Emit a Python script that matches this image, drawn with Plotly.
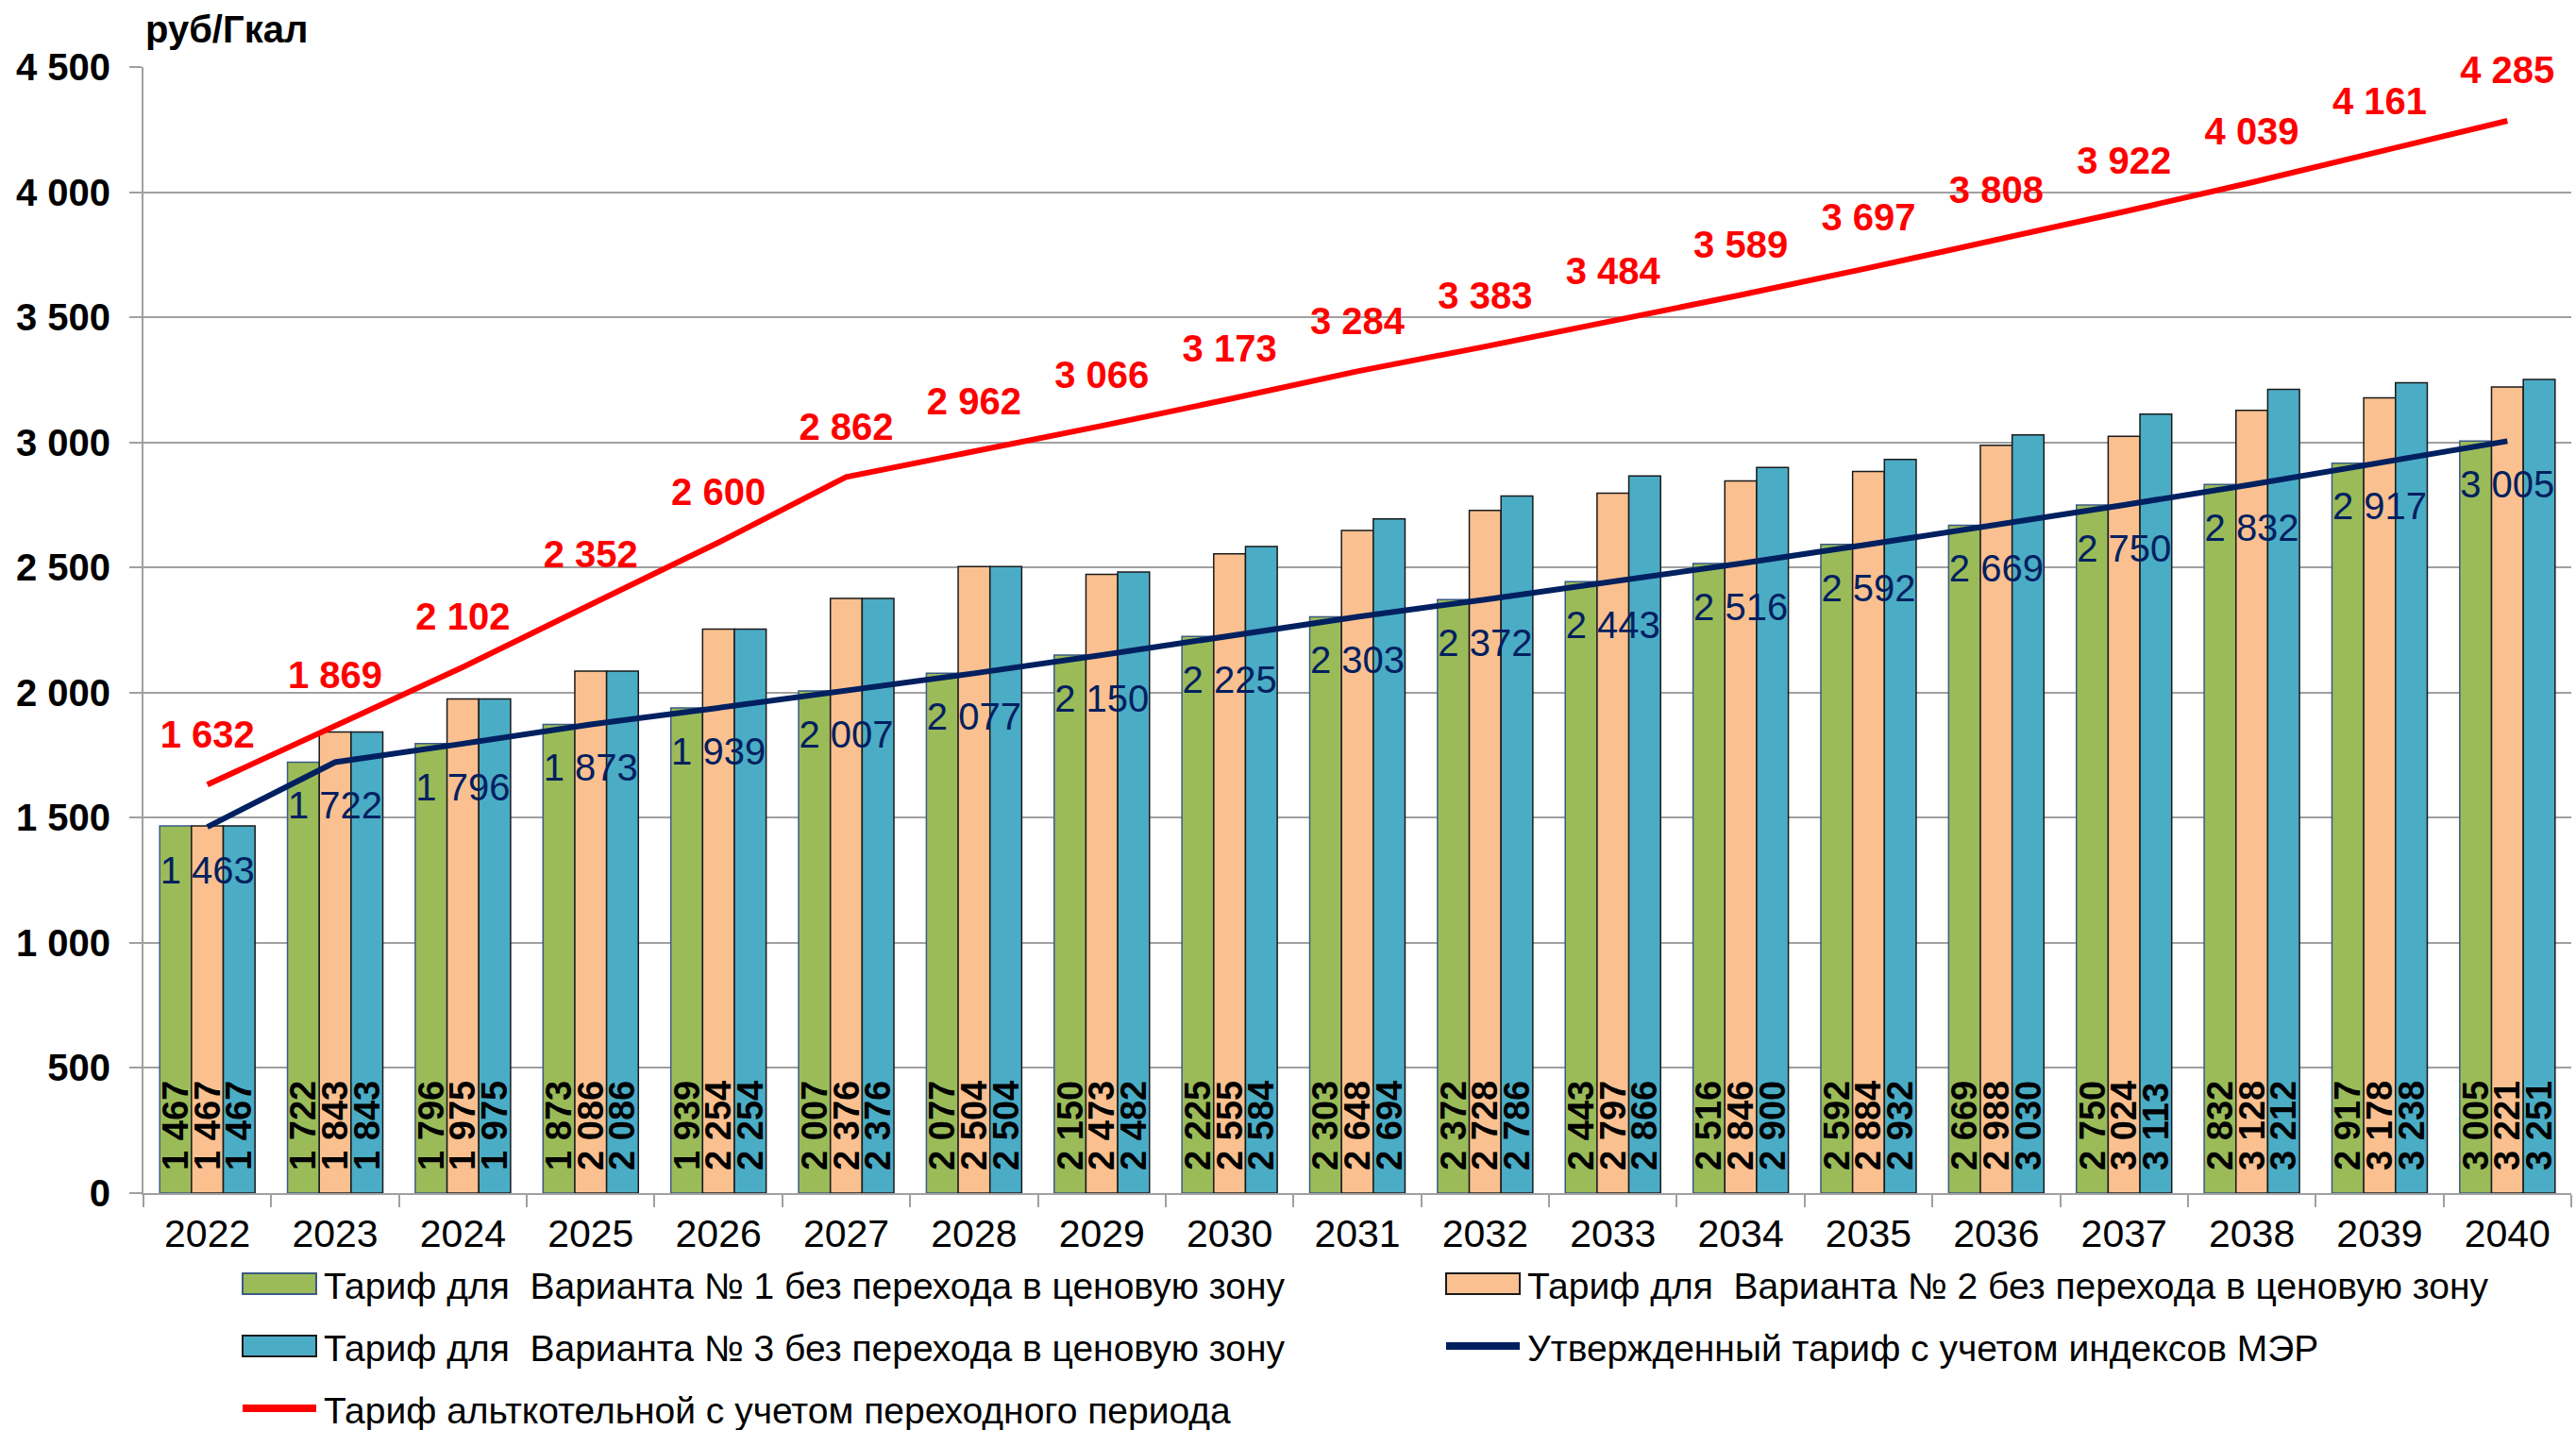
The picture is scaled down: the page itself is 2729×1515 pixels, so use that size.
import plotly.graph_objects as go

years = [str(y) for y in range(2022, 2041)]

var1 = [1467, 1722, 1796, 1873, 1939, 2007, 2077, 2150, 2225, 2303,
        2372, 2443, 2516, 2592, 2669, 2750, 2832, 2917, 3005]
var2 = [1467, 1843, 1975, 2086, 2254, 2376, 2504, 2473, 2555, 2648,
        2728, 2797, 2846, 2884, 2988, 3024, 3128, 3178, 3221]
var3 = [1467, 1843, 1975, 2086, 2254, 2376, 2504, 2482, 2584, 2694,
        2786, 2866, 2900, 2932, 3030, 3113, 3212, 3238, 3251]
mer = [1463, 1722, 1796, 1873, 1939, 2007, 2077, 2150, 2225, 2303,
       2372, 2443, 2516, 2592, 2669, 2750, 2832, 2917, 3005]
alt = [1632, 1869, 2102, 2352, 2600, 2862, 2962, 3066, 3173, 3284,
       3383, 3484, 3589, 3697, 3808, 3922, 4039, 4161, 4285]
y_ticks = [0, 500, 1000, 1500, 2000, 2500, 3000, 3500, 4000, 4500]

name1 = "Тариф для  Варианта № 1 без перехода в ценовую зону"
name2 = "Тариф для  Варианта № 2 без перехода в ценовую зону"
name3 = "Тариф для  Варианта № 3 без перехода в ценовую зону"
name_mer = "Утвержденный тариф с учетом индексов МЭР"
name_alt = "Тариф альткотельной с учетом переходного периода"
y_unit = "руб/Гкал"

W, H = 2729, 1515
L, R, T, B = 152, 5, 71, 251
FONT = "Liberation Sans, Arial, sans-serif"
GREEN, ORANGE, BLUE = "#9BBB59", "#FAC090", "#4BACC6"
NAVY, RED = "#002060", "#FF0000"
GRID = "#A0A0A0"


def fmt(v):
    return f"{v:,}".replace(",", " ")


def px2x(px):
    return (px - L) / (W - L - R)


def py2y(py):
    return (H - B - py) / (H - T - B)


fig = go.Figure()

# grouped bars, labels rotated at the base
for vals, color, edge, name in [(var1, GREEN, "#3B5A86", name1),
                                (var2, ORANGE, "#1A1A1A", name2),
                                (var3, BLUE, "#1A1A1A", name3)]:
    fig.add_trace(go.Bar(
        x=years, y=vals, name=name,
        marker=dict(color=color, line=dict(color=edge, width=1.5)),
        text=["\u00a0\u00a0" + fmt(v) for v in vals],
        textposition="inside", insidetextanchor="start", textangle=-90,
        textfont=dict(family=FONT, size=38, color="black", weight="bold"),
        showlegend=False,
    ))

fig.add_trace(go.Scatter(
    x=years, y=mer, name=name_mer, mode="lines+markers+text",
    line=dict(color=NAVY, width=6), marker=dict(size=46, opacity=0),
    text=[fmt(v) for v in mer], textposition="bottom center",
    textfont=dict(family=FONT, size=40, color=NAVY),
    cliponaxis=False, showlegend=False,
))
fig.add_trace(go.Scatter(
    x=years, y=alt, name=name_alt, mode="lines+markers+text",
    line=dict(color=RED, width=6), marker=dict(size=46, opacity=0),
    text=[fmt(v) for v in alt], textposition="top center",
    textfont=dict(family=FONT, size=40, color=RED, weight="bold"),
    cliponaxis=False, showlegend=False,
))

# hand-drawn legend (two columns, wide swatches)
shapes = []
annotations = []
legend_items = [
    (name1, "bar", GREEN, "#3B5A86", 257, 1360),
    (name2, "bar", ORANGE, "#1A1A1A", 1532, 1360),
    (name3, "bar", BLUE, "#1A1A1A", 257, 1426),
    (name_mer, "line", NAVY, NAVY, 1532, 1426),
    (name_alt, "line", RED, RED, 257, 1492),
]
for label, kind, color, edge, x0, yc in legend_items:
    if kind == "bar":
        shapes.append(dict(type="rect", xref="paper", yref="paper",
                           x0=px2x(x0), x1=px2x(x0 + 78),
                           y0=py2y(yc - 11), y1=py2y(yc + 11),
                           fillcolor=color, line=dict(color=edge, width=2)))
    else:
        shapes.append(dict(type="line", xref="paper", yref="paper",
                           x0=px2x(x0), x1=px2x(x0 + 78),
                           y0=py2y(yc), y1=py2y(yc),
                           line=dict(color=color, width=8)))
    annotations.append(dict(text=label, xref="paper", yref="paper",
                            x=px2x(x0 + 84), y=py2y(yc + 2),
                            xanchor="left", yanchor="middle", showarrow=False,
                            font=dict(family=FONT, size=39, color="black")))

annotations.append(dict(text=y_unit, xref="paper", yref="paper",
                        x=px2x(152), y=py2y(31), xanchor="left", yanchor="middle",
                        showarrow=False,
                        font=dict(family=FONT, size=40, color="black", weight="bold")))

fig.update_layout(
    width=W, height=H, autosize=False,
    margin=dict(l=L, r=R, t=T, b=B, pad=0),
    paper_bgcolor="white", plot_bgcolor="white",
    barmode="group", bargap=0.254, bargroupgap=0,
    uniformtext=dict(mode="show", minsize=38),
    font=dict(family=FONT, color="black"),
    shapes=shapes, annotations=annotations,
    showlegend=False,
)
fig.update_xaxes(
    type="category", range=[-0.5, len(years) - 0.5],
    showline=True, linecolor=GRID, linewidth=2,
    ticks="outside", tickson="boundaries", ticklen=13, tickcolor=GRID, tickwidth=2,
    tickfont=dict(family=FONT, size=41, color="black"), showgrid=False,
    ticklabelstandoff=6,
)
fig.update_yaxes(
    range=[0, 4500], tickvals=y_ticks, ticktext=[fmt(v) for v in y_ticks],
    showgrid=True, gridcolor=GRID, gridwidth=2, zeroline=False,
    showline=True, linecolor=GRID, linewidth=2,
    ticks="outside", ticklen=13, tickcolor=GRID, tickwidth=2,
    tickfont=dict(family=FONT, size=40, color="black", weight="bold"),
    ticklabelstandoff=12,
)

fig.write_html("out.html", config={"displayModeBar": False},
               post_script="document.body.style.margin='0';")
